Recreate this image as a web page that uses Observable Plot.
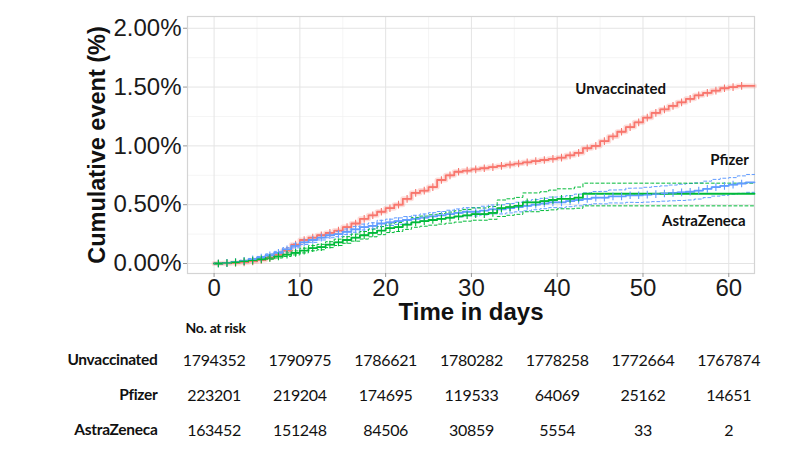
<!DOCTYPE html>
<html><head><meta charset="utf-8">
<script src="https://cdn.jsdelivr.net/npm/d3@7"></script>
<script src="https://cdn.jsdelivr.net/npm/@observablehq/plot@0.6"></script>
<style>
body{margin:0;background:#fff;}
#chart{width:800px;height:449px;overflow:hidden;}
#chart svg{display:block;}
</style>
</head><body><div id="chart"></div><script>
// Cumulative event (%) by day 0..63
const unvaccinated = [0,0.002,0.005,0.010,0.018,0.030,0.050,0.075,0.11,0.16,0.20,0.22,0.24,0.26,0.28,0.31,0.34,0.38,0.41,0.44,0.47,0.50,0.55,0.60,0.62,0.65,0.71,0.75,0.78,0.79,0.80,0.81,0.82,0.83,0.84,0.85,0.86,0.87,0.88,0.89,0.90,0.92,0.94,0.98,1.00,1.04,1.08,1.12,1.16,1.20,1.24,1.28,1.31,1.34,1.37,1.40,1.43,1.45,1.47,1.49,1.50,1.51,1.51,1.51];
const pfizer = [0,0.005,0.012,0.022,0.035,0.05,0.07,0.09,0.12,0.15,0.18,0.20,0.22,0.24,0.25,0.27,0.29,0.31,0.32,0.34,0.35,0.36,0.37,0.38,0.39,0.40,0.41,0.42,0.43,0.44,0.44,0.45,0.46,0.46,0.47,0.48,0.49,0.50,0.51,0.52,0.52,0.53,0.54,0.55,0.56,0.56,0.57,0.57,0.58,0.58,0.585,0.59,0.595,0.60,0.605,0.61,0.62,0.635,0.65,0.66,0.67,0.68,0.69,0.69];
const pfizerLower = [0,0.003,0.008,0.016,0.027,0.04,0.058,0.077,0.105,0.133,0.162,0.18,0.2,0.219,0.228,0.247,0.266,0.285,0.294,0.313,0.323,0.332,0.341,0.35,0.359,0.368,0.378,0.387,0.396,0.405,0.404,0.413,0.422,0.421,0.43,0.439,0.448,0.457,0.466,0.475,0.474,0.483,0.49,0.5,0.508,0.507,0.515,0.514,0.52,0.519,0.522,0.526,0.53,0.533,0.536,0.54,0.548,0.56,0.573,0.58,0.589,0.597,0.605,0.605];
const pfizerUpper = [0,0.007,0.016,0.028,0.043,0.06,0.082,0.103,0.135,0.167,0.198,0.22,0.24,0.261,0.272,0.293,0.314,0.335,0.346,0.367,0.377,0.388,0.399,0.41,0.421,0.432,0.442,0.453,0.464,0.475,0.476,0.487,0.498,0.499,0.51,0.521,0.532,0.543,0.554,0.565,0.566,0.577,0.59,0.6,0.612,0.613,0.625,0.626,0.64,0.641,0.648,0.654,0.66,0.667,0.674,0.68,0.685,0.70,0.715,0.725,0.73,0.745,0.757,0.757];
const astrazeneca = [0,0.004,0.010,0.018,0.025,0.035,0.047,0.06,0.075,0.09,0.11,0.13,0.14,0.16,0.18,0.20,0.22,0.24,0.26,0.28,0.30,0.31,0.33,0.35,0.36,0.37,0.38,0.39,0.40,0.41,0.42,0.42,0.43,0.47,0.48,0.49,0.52,0.52,0.53,0.54,0.55,0.55,0.56,0.593,0.593,0.593,0.593,0.593,0.593,0.593,0.593,0.593,0.593,0.593,0.593,0.593,0.593,0.593,0.593,0.593,0.593,0.593,0.593,0.593];
const astrazenecaLower = [0,0.002,0.006,0.012,0.018,0.026,0.036,0.047,0.06,0.073,0.09,0.108,0.117,0.135,0.153,0.172,0.19,0.208,0.227,0.245,0.263,0.272,0.29,0.308,0.317,0.326,0.335,0.343,0.352,0.36,0.368,0.368,0.376,0.40,0.41,0.418,0.44,0.44,0.45,0.456,0.465,0.465,0.47,0.49,0.49,0.49,0.49,0.49,0.49,0.49,0.49,0.49,0.49,0.49,0.49,0.49,0.49,0.49,0.49,0.49,0.49,0.49,0.49,0.49];
const astrazenecaUpper = [0,0.006,0.014,0.024,0.032,0.044,0.058,0.073,0.09,0.107,0.13,0.152,0.163,0.185,0.207,0.228,0.25,0.272,0.293,0.315,0.337,0.348,0.37,0.392,0.403,0.414,0.425,0.437,0.448,0.46,0.472,0.472,0.484,0.54,0.55,0.562,0.60,0.60,0.61,0.624,0.635,0.635,0.65,0.683,0.683,0.683,0.683,0.683,0.683,0.683,0.683,0.683,0.683,0.683,0.683,0.683,0.683,0.683,0.683,0.683,0.683,0.683,0.683,0.683];

const groups = ["Unvaccinated","Pfizer","AstraZeneca"];
const colors = ["#F8766D","#619CFF","#00BA38"];
const xTicks = [0,10,20,30,40,50,60];
const xMinor = [5,15,25,35,45,55];
const yTicks = [0,0.5,1,1.5,2];
const yMinor = [0.25,0.75,1.25,1.75];
const riskDays = [0,10,20,30,40,50,60];
const riskUnvaccinated = [1794352,1790975,1786621,1780282,1778258,1772664,1767874];
const riskPfizer = [223201,219204,174695,119533,64069,25162,14651];
const riskAstraZeneca = [163452,151248,84506,30859,5554,33,2];
// curve labels: [text, day, value]
const curveLabels = [["Unvaccinated",47.4,1.48],["Pfizer",60.1,0.875],["AstraZeneca",57.1,0.36]];
// censoring marks: last day with marks per group
const censorUntil = [62,62,43];

const series = [unvaccinated, pfizer, astrazeneca];
const lowers = [null, pfizerLower, astrazenecaLower];
const uppers = [null, pfizerUpper, astrazenecaUpper];

const main = [], ci = [], censor = [];
series.forEach((arr, g) => {
  arr.forEach((v, i) => {
    main.push({group: groups[g], day: i, v});
    if (i < censorUntil[g]) censor.push({group: groups[g], day: i + 0.5, v});
    if (lowers[g]) {
      ci.push({key: groups[g] + "-lo", group: groups[g], day: i, v: lowers[g][i]});
      ci.push({key: groups[g] + "-hi", group: groups[g], day: i, v: uppers[g][i]});
    }
  });
});
const risk = [];
[riskUnvaccinated, riskPfizer, riskAstraZeneca].forEach((arr, g) =>
  arr.forEach((n, i) => risk.push({group: groups[g], day: riskDays[i], n: String(n)})));

const xDomain = [-3.1, 63];
const color = {domain: groups, range: colors};
const sans = "'Liberation Sans', Arial, sans-serif";
const cal = "Lato, 'Open Sans', sans-serif";

const chart = Plot.plot({
  width: 800, height: 322,
  marginLeft: 187, marginRight: 46, marginTop: 16, marginBottom: 49,
  style: {fontFamily: sans, background: "white", overflow: "visible"},
  x: {domain: xDomain},
  y: {domain: [-0.085, 2.1]},
  color,
  marks: [
    Plot.gridX(xMinor, {stroke: "#f0f0f0", strokeOpacity: 1, strokeWidth: 0.7}),
    Plot.gridY(yMinor, {stroke: "#f0f0f0", strokeOpacity: 1, strokeWidth: 0.7}),
    Plot.gridX(xTicks, {stroke: "#e4e4e4", strokeOpacity: 1}),
    Plot.gridY(yTicks, {stroke: "#e4e4e4", strokeOpacity: 1}),
    Plot.frame({stroke: "#d4d4d4", strokeWidth: 1.2}),
    Plot.axisX(xTicks, {fontSize: 24, tickSize: 4, tickPadding: 1, stroke: "#999", label: null, fill: "#1a1a1a"}),
    Plot.axisY(yTicks, {fontSize: 24, tickSize: 4, tickPadding: 2, stroke: "#999", label: null, fill: "#1a1a1a",
      tickFormat: d => d.toFixed(2) + "%"}),
    Plot.text(["Time in days"], {frameAnchor: "bottom", lineAnchor: "middle", dy: 39, fontSize: 24, fontWeight: "bold", fill: "#111"}),
    Plot.text(["Cumulative event (%)"], {frameAnchor: "left", textAnchor: "middle", lineAnchor: "middle", rotate: -90, dx: -90, fontSize: 23.5, fontWeight: "bold", fill: "#111"}),
    Plot.line(main.filter(d => d.group === "Unvaccinated"), {x: "day", y: "v", stroke: "group", curve: "step-after", strokeWidth: 5, strokeOpacity: 0.25}),
    Plot.line(ci, {x: "day", y: "v", z: "key", stroke: "group", curve: "step-after", strokeWidth: 1, strokeDasharray: "3,2.5"}),
    Plot.line(main, {x: "day", y: "v", z: "group", stroke: "group", curve: "step-after", strokeWidth: 1.8}),
    Plot.dot(censor, {x: "day", y: "v", stroke: "group", symbol: "plus", r: 2.6, strokeWidth: 1.1}),
    Plot.text(curveLabels, {x: d => d[1], y: d => d[2], text: d => d[0], fontFamily: cal, fontWeight: "bold", fontSize: 15, fill: "#111"})
  ]
});

const table = Plot.plot({
  width: 800, height: 127,
  marginLeft: 187, marginRight: 46, marginTop: 0, marginBottom: 0,
  style: {fontFamily: cal, background: "white", overflow: "visible"},
  x: {domain: xDomain, axis: null},
  y: {type: "point", domain: groups, range: [38, 108], padding: 0, axis: null},
  marks: [
    Plot.text(risk, {x: "day", y: "group", text: "n", fontSize: 16, fill: "#111"}),
    Plot.text(groups, {y: d => d, frameAnchor: "left", textAnchor: "end", dx: -30, fontWeight: "bold", fontSize: 15.5, fill: "#111"}),
    Plot.text(["No. at risk"], {frameAnchor: "top-left", textAnchor: "start", lineAnchor: "middle", dx: -2, dy: 6, fontWeight: "bold", fontSize: 14, fill: "#111"})
  ]
});

const root = document.getElementById("chart");
root.appendChild(chart);
root.appendChild(table);
// slightly tighter spacing to mimic the narrow table font
table.querySelectorAll("text").forEach(t => t.style.letterSpacing = "-0.3px");
</script></body></html>
